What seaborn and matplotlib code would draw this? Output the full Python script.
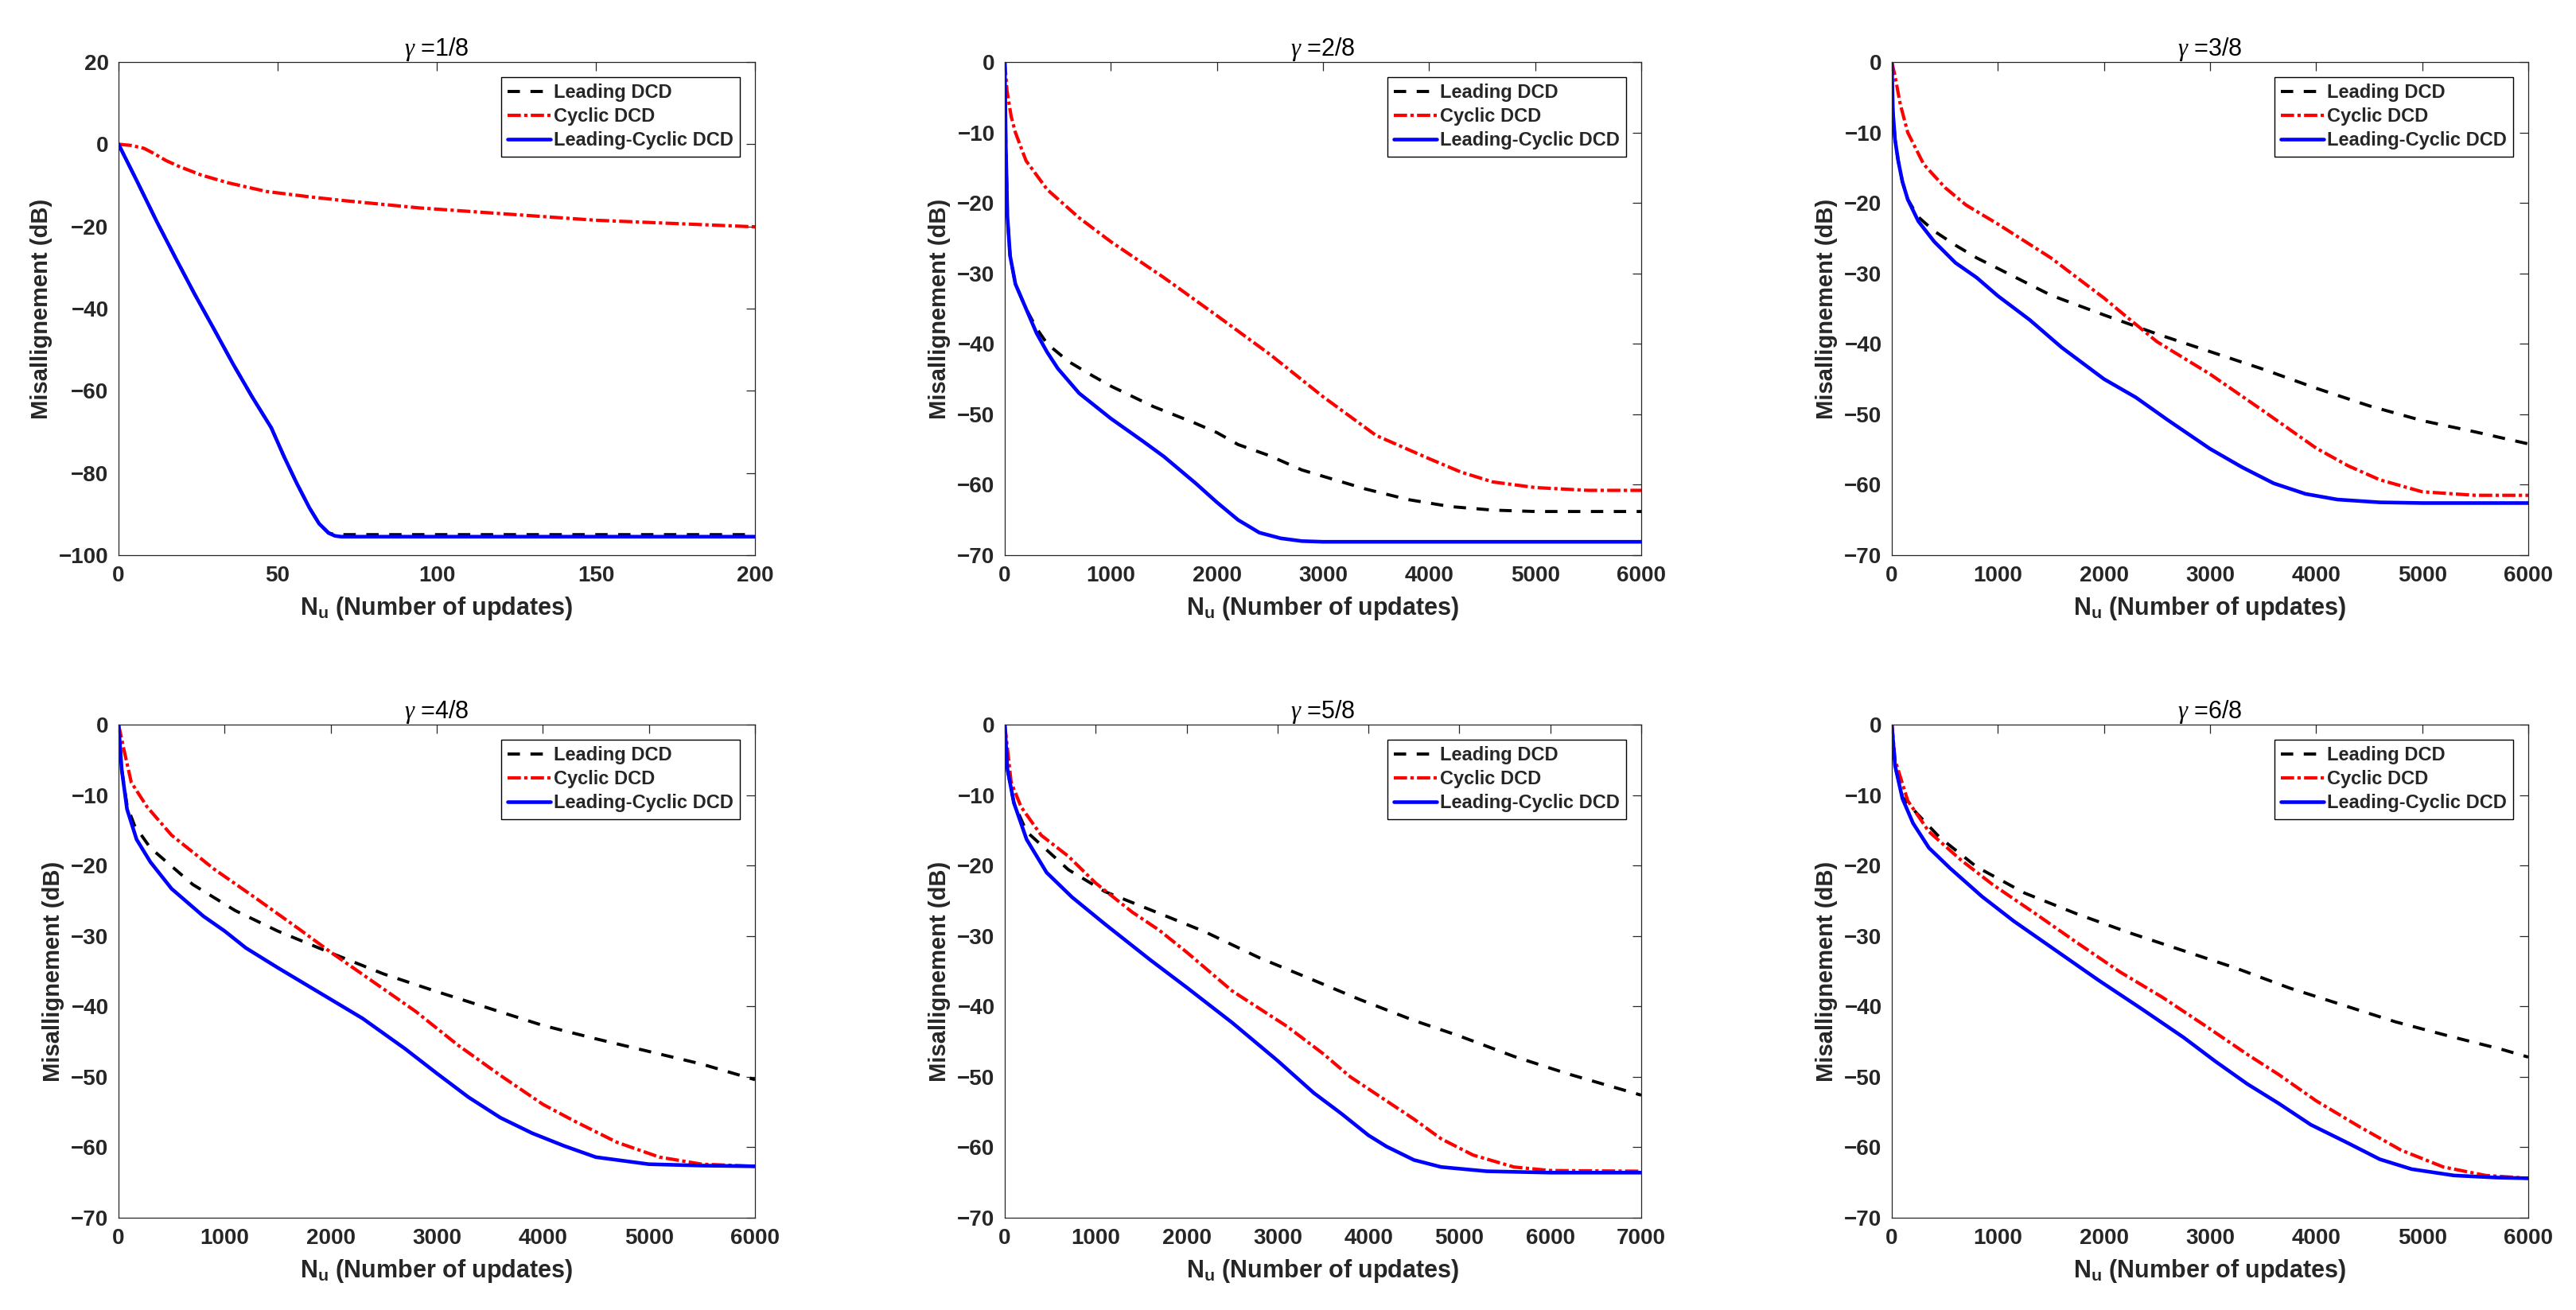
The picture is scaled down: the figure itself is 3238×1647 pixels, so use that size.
import numpy as np
import pandas as pd
import matplotlib
matplotlib.use("Agg")
import matplotlib.pyplot as plt
import seaborn as sns

sns.set_theme(style="white")
plt.rcParams['font.family'] = ['Liberation Sans', 'DejaVu Sans']
plt.rcParams['mathtext.fontset'] = 'custom'
plt.rcParams['mathtext.rm'] = 'Liberation Sans'
plt.rcParams['mathtext.it'] = 'Liberation Serif:italic'
plt.rcParams['mathtext.bf'] = 'Liberation Sans:bold'

# ---- data (misalignment in dB vs number of updates) ----
# gamma = 1/8
x1_lc = [0, 6, 12, 18, 24, 30, 36, 42, 48, 52, 56, 60, 63, 66, 68, 70, 80, 100, 120, 140, 160, 180, 200]
y1_lc = [0, -9.3, -18.8, -27.8, -36.6, -45, -53.5, -61.5, -69, -76, -82.5, -88.5, -92.3, -94.6, -95.3, -95.5, -95.5, -95.5, -95.5, -95.5, -95.5, -95.5, -95.5]
x1_lead = [0, 6, 12, 18, 24, 30, 36, 42, 48, 52, 56, 60, 63, 66, 68, 70, 80, 100, 120, 140, 160, 180, 200]
y1_lead = [0, -9.3, -18.8, -27.8, -36.6, -45, -53.5, -61.5, -69, -76, -82.5, -88.5, -92.3, -94.6, -95.0, -95.0, -95.0, -95.0, -95.0, -95.0, -95.0, -95.0, -95.0]
x1_cyc = [0, 4, 8, 10.5, 15, 19, 26, 34.5, 46.5, 60, 70.6, 94.6, 118.6, 150, 175, 200]
y1_cyc = [0, -0.3, -1.0, -2.0, -4.0, -5.4, -7.5, -9.4, -11.5, -12.8, -13.7, -15.5, -16.8, -18.5, -19.3, -20.1]

# gamma = 2/8
x2_lead = [0, 10, 25, 50, 100, 200, 300, 400, 600, 800, 1000, 1400, 1800, 2000, 2200, 2500, 2800, 3000, 3400, 3800, 4200, 4600, 5000, 6000]
y2_lead = [0, -12, -22, -27.5, -31.5, -35, -37.8, -40, -42.5, -44.3, -46, -48.9, -51.3, -52.6, -54.3, -55.9, -57.9, -58.8, -60.6, -62.1, -63.1, -63.6, -63.8, -63.8]
x2_cyc = [0, 20, 60, 100, 200, 400, 700, 1000, 1500, 2000, 2500, 3000, 3500, 4000, 4300, 4600, 5000, 5500, 6000]
y2_cyc = [0, -4, -7.7, -10, -14, -18.1, -22.1, -25.5, -30.6, -36, -41.5, -47.5, -53, -56.3, -58.2, -59.6, -60.4, -60.8, -60.8]
x2_lc = [0, 10, 25, 50, 100, 200, 300, 400, 500, 700, 1000, 1300, 1500, 1800, 2000, 2200, 2400, 2600, 2800, 3000, 4000, 5000, 6000]
y2_lc = [0, -12, -22, -27.5, -31.5, -35, -38.5, -41.2, -43.5, -47, -50.6, -53.8, -56, -59.8, -62.5, -65, -66.8, -67.6, -68, -68.1, -68.1, -68.1, -68.1]

# gamma = 3/8
x3_lead = [0, 10, 30, 60, 100, 150, 250, 400, 600, 800, 1000, 1500, 2000, 2500, 3000, 3500, 4000, 4500, 5000, 5500, 6000]
y3_lead = [0, -7, -11, -14, -17, -19.5, -22, -24, -26, -27.8, -29.3, -33.1, -35.9, -38.6, -41.1, -43.6, -46.3, -48.8, -50.9, -52.5, -54.2]
x3_cyc = [0, 30, 80, 150, 300, 500, 700, 1000, 1500, 2000, 2200, 2500, 3000, 3500, 4000, 4300, 4600, 5000, 5500, 6000]
y3_cyc = [0, -2, -6, -10, -14.5, -17.8, -20.3, -23, -27.8, -33.5, -36, -39.7, -44.3, -49.5, -54.8, -57.3, -59.3, -61, -61.5, -61.5]
x3_lc = [0, 10, 30, 60, 100, 150, 250, 400, 600, 800, 1000, 1300, 1600, 2000, 2300, 2600, 3000, 3300, 3600, 3900, 4200, 4600, 5000, 6000]
y3_lc = [0, -7, -11, -14, -17, -19.5, -22.6, -25.5, -28.5, -30.6, -33.2, -36.6, -40.5, -45, -47.6, -50.8, -54.9, -57.5, -59.8, -61.3, -62.1, -62.5, -62.6, -62.6]

# gamma = 4/8
x4_lead = [0, 30, 80, 150, 300, 700, 1100, 1500, 2000, 2500, 3000, 3500, 4000, 4500, 5000, 5500, 6000]
y4_lead = [0, -6.4, -11.5, -14.3, -17.5, -22.7, -26.4, -29.3, -32.4, -35.4, -37.9, -40.3, -42.7, -44.6, -46.4, -48.2, -50.4]
x4_cyc = [0, 50, 120, 270, 500, 900, 1300, 1700, 2000, 2400, 2800, 3200, 3600, 4000, 4300, 4700, 5100, 5500, 6000]
y4_cyc = [0, -3.5, -8.2, -11.7, -15.7, -20.5, -24.7, -29, -32.3, -36.5, -40.7, -45.5, -49.8, -53.9, -56.3, -59.3, -61.4, -62.4, -62.7]
x4_lc = [0, 30, 80, 170, 300, 500, 800, 1000, 1200, 1500, 2000, 2300, 2700, 3000, 3300, 3600, 3900, 4200, 4500, 5000, 5500, 6000]
y4_lc = [0, -6.4, -12, -16.3, -19.5, -23.3, -27.2, -29.3, -31.7, -34.5, -39, -41.7, -46, -49.5, -52.9, -55.8, -58, -59.8, -61.4, -62.4, -62.6, -62.7]

# gamma = 5/8
x5_lead = [0, 30, 100, 240, 700, 1100, 1700, 2200, 2800, 3400, 3900, 4500, 5000, 5600, 6200, 7000]
y5_lead = [0, -6.4, -11.1, -15.2, -20.6, -23.7, -26.8, -29.4, -33.1, -36.3, -39, -42, -44.2, -47.1, -49.6, -52.6]
x5_cyc = [0, 70, 180, 400, 700, 1000, 1400, 1700, 2000, 2500, 2800, 3100, 3500, 3800, 4150, 4500, 4800, 5150, 5600, 6000, 7000]
y5_cyc = [0, -8.2, -11.7, -15.7, -18.7, -22.5, -26.6, -29.2, -32.3, -37.8, -40.3, -42.8, -46.7, -50, -53, -56, -58.8, -61.1, -62.8, -63.3, -63.4]
x5_lc = [0, 30, 100, 240, 460, 740, 1100, 1600, 2000, 2500, 3000, 3400, 3700, 4000, 4200, 4500, 4800, 5300, 6000, 7000]
y5_lc = [0, -6.4, -11.1, -16.3, -21, -24.5, -28.3, -33.4, -37.3, -42.3, -47.7, -52.3, -55.2, -58.3, -59.9, -61.8, -62.8, -63.4, -63.6, -63.6]

# gamma = 6/8
x6_lead = [0, 30, 100, 230, 450, 800, 1250, 1750, 2250, 2750, 3250, 3750, 4250, 4750, 5250, 5750, 6000]
y6_lead = [0, -5.8, -10.3, -12.5, -16, -20.2, -23.9, -26.9, -29.6, -32.1, -34.6, -37.4, -39.8, -42.2, -44.2, -46.1, -47.2]
x6_cyc = [0, 30, 150, 350, 650, 950, 1350, 1750, 2150, 2550, 2950, 3350, 3650, 4000, 4400, 4800, 5200, 5600, 6000]
y6_cyc = [0, -5, -10.8, -15.2, -19.2, -22.7, -26.8, -31, -35.1, -38.7, -42.7, -46.8, -49.7, -53.4, -57, -60.4, -62.8, -64, -64.4]
x6_lc = [0, 30, 100, 200, 350, 550, 850, 1150, 1550, 1950, 2350, 2750, 3050, 3350, 3650, 3950, 4300, 4600, 4900, 5300, 5700, 6000]
y6_lc = [0, -5.8, -10.5, -14, -17.5, -20.4, -24.4, -27.9, -32.1, -36.3, -40.3, -44.4, -47.8, -51, -53.8, -56.8, -59.4, -61.7, -63.1, -64, -64.3, -64.4]

gammas = ["1/8", "2/8", "3/8", "4/8", "5/8", "6/8"]
x_max = [200, 6000, 6000, 6000, 7000, 6000]
methods = ["Leading DCD", "Cyclic DCD", "Leading-Cyclic DCD"]

panels = [
    [(x1_lead, y1_lead), (x1_cyc, y1_cyc), (x1_lc, y1_lc)],
    [(x2_lead, y2_lead), (x2_cyc, y2_cyc), (x2_lc, y2_lc)],
    [(x3_lead, y3_lead), (x3_cyc, y3_cyc), (x3_lc, y3_lc)],
    [(x4_lead, y4_lead), (x4_cyc, y4_cyc), (x4_lc, y4_lc)],
    [(x5_lead, y5_lead), (x5_cyc, y5_cyc), (x5_lc, y5_lc)],
    [(x6_lead, y6_lead), (x6_cyc, y6_cyc), (x6_lc, y6_lc)],
]

colors = {"Leading DCD": "black", "Cyclic DCD": "#ff0000", "Leading-Cyclic DCD": "#0000ff"}
widths = {"Leading DCD": 2.8, "Cyclic DCD": 3.0, "Leading-Cyclic DCD": 3.3}
styles = {"Leading DCD": (0, (4, 3.4)), "Cyclic DCD": (0, (4, 1, 1, 1)), "Leading-Cyclic DCD": "-"}

fig = plt.figure(figsize=(32.38, 16.47), dpi=100)
W, H = 3238, 1647
lefts = [149, 1263, 2378]
tops = [78, 911]
aw, ah = 800, 620

axes = []
for r in range(2):
    for c in range(3):
        ax = fig.add_axes([lefts[c] / W, (H - tops[r] - ah) / H, aw / W, ah / H])
        axes.append(ax)

dark = "#262626"
for i, ax in enumerate(axes):
    for name, (xs, ys) in zip(methods, panels[i]):
        sns.lineplot(x=xs, y=ys, ax=ax, color=colors[name], lw=widths[name],
                     ls=styles[name], label=name, sort=False, estimator=None)

    ax.set_xlim(0, x_max[i])
    if i == 0:
        ax.set_ylim(-100, 20)
        ax.set_yticks(np.arange(-100, 21, 20))
        ax.set_xticks(np.arange(0, 201, 50))
    else:
        ax.set_ylim(-70, 0)
        ax.set_yticks(np.arange(-70, 1, 10))
        ax.set_xticks(np.arange(0, x_max[i] + 1, 1000))

    ax.tick_params(direction="in", length=8, width=0.9, top=True, right=True,
                   labelsize=20, pad=9, colors=dark, labelcolor=dark)
    for lab in ax.get_xticklabels() + ax.get_yticklabels():
        lab.set_fontweight("bold")
    for sp in ax.spines.values():
        sp.set_visible(True)
        sp.set_color(dark)
        sp.set_linewidth(0.9)

    ax.set_title(r"$\gamma$ =" + gammas[i], fontsize=22, pad=6, color="black")
    ax.set_xlabel(r"N$_{\mathbf{u}}$ (Number of updates)", fontsize=22,
                  fontweight="bold", labelpad=8, color=dark)
    ax.set_ylabel("Misallignement (dB)", fontsize=21, fontweight="bold",
                  labelpad=6, color=dark)

    leg = ax.legend(loc="upper right", prop={"size": 17, "weight": "bold"},
                    handlelength=2.3, handletextpad=0.15, borderpad=0.35,
                    labelspacing=0.3, borderaxespad=0.8, fancybox=False,
                    framealpha=1, edgecolor="black")
    leg.get_frame().set_linewidth(1.0)

fig.savefig("out.png", dpi=100)
